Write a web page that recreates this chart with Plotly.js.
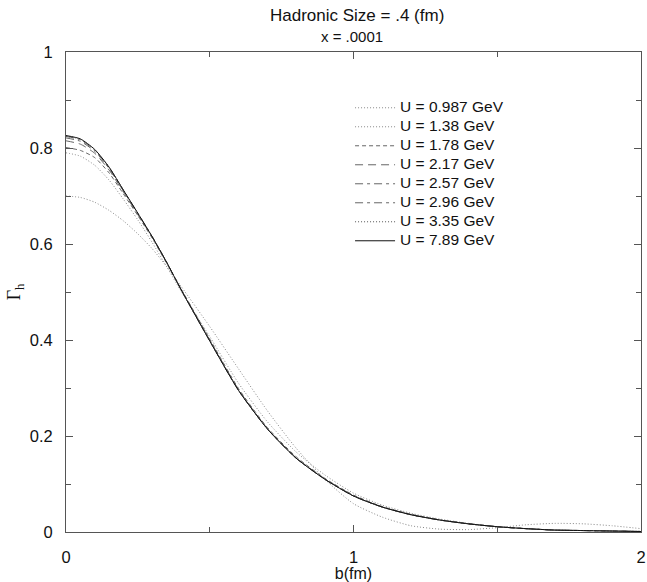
<!DOCTYPE html>
<html>
<head>
<meta charset="utf-8">
<script src="https://cdn.plot.ly/plotly-3.0.1.min.js"></script>
<style>html,body{margin:0;padding:0;background:#fff;}</style>
</head>
<body>
<div id="chart" style="width:647px;height:582px;"></div>
<script>
var b = [0, 0.05, 0.1, 0.15, 0.2, 0.25, 0.3, 0.35, 0.4, 0.5, 0.6, 0.7, 0.8, 0.9, 1.0, 1.1, 1.2, 1.3, 1.4, 1.5, 1.6, 1.7, 1.8, 1.9, 2.0];

var labels = ["U = 0.987 GeV", "U = 1.38 GeV", "U = 1.78 GeV", "U = 2.17 GeV",
              "U = 2.57 GeV", "U = 2.96 GeV", "U = 3.35 GeV", "U = 7.89 GeV"];

var g0987 = [0.700, 0.697, 0.687, 0.670, 0.648, 0.621, 0.590, 0.553, 0.512, 0.428, 0.340, 0.253, 0.175, 0.110, 0.059, 0.031, 0.013, 0.006, 0.005, 0.009, 0.015, 0.018, 0.017, 0.013, 0.007];
var g138  = [0.790, 0.783, 0.764, 0.733, 0.693, 0.650, 0.603, 0.553, 0.502, 0.407, 0.310, 0.230, 0.167, 0.119, 0.081, 0.056, 0.039, 0.027, 0.018, 0.011, 0.007, 0.004, 0.003, 0.002, 0.002];
var g178  = [0.801, 0.795, 0.780, 0.748, 0.704, 0.659, 0.612, 0.560, 0.507, 0.402, 0.299, 0.218, 0.157, 0.112, 0.077, 0.053, 0.037, 0.025, 0.017, 0.011, 0.007, 0.004, 0.003, 0.002, 0.001];
var g217  = [0.815, 0.808, 0.789, 0.754, 0.708, 0.661, 0.614, 0.561, 0.506, 0.400, 0.297, 0.216, 0.155, 0.111, 0.076, 0.052, 0.036, 0.025, 0.017, 0.011, 0.007, 0.004, 0.003, 0.002, 0.001];
var g257  = [0.821, 0.814, 0.793, 0.757, 0.710, 0.663, 0.615, 0.562, 0.506, 0.399, 0.296, 0.215, 0.154, 0.110, 0.075, 0.052, 0.036, 0.025, 0.017, 0.011, 0.007, 0.004, 0.003, 0.002, 0.001];
var g296  = [0.824, 0.817, 0.795, 0.759, 0.711, 0.664, 0.615, 0.562, 0.505, 0.398, 0.295, 0.215, 0.154, 0.110, 0.075, 0.052, 0.036, 0.025, 0.017, 0.011, 0.007, 0.004, 0.003, 0.002, 0.001];
var g335  = [0.825, 0.818, 0.796, 0.760, 0.712, 0.664, 0.615, 0.562, 0.505, 0.398, 0.295, 0.215, 0.154, 0.110, 0.075, 0.052, 0.036, 0.025, 0.017, 0.011, 0.007, 0.004, 0.003, 0.002, 0.001];
var g789  = [0.826, 0.819, 0.797, 0.760, 0.712, 0.664, 0.615, 0.562, 0.505, 0.398, 0.295, 0.215, 0.154, 0.110, 0.075, 0.052, 0.036, 0.025, 0.017, 0.011, 0.007, 0.004, 0.003, 0.002, 0.001];

var series = [g0987, g138, g178, g217, g257, g296, g335, g789];
var dashes = ["1px,2px", "1px,2px", "4px,3px", "8px,5px", "8px,4px,3px,4px", "8px,4px,3px,4px", "1px,2px", "solid"];
var colors = ["#888", "#888", "#666", "#666", "#666", "#666", "#555", "#111"];

var traces = series.map(function (ys, i) {
  return {
    x: b, y: ys, type: "scatter", mode: "lines",
    name: '<span style="font-size:15.5px">' + labels[i] + '</span>',
    line: {color: colors[i], width: 1, dash: dashes[i], shape: "spline", smoothing: 0.6}
  };
});

var axisCommon = {
  showline: true, linecolor: "#555", linewidth: 1, mirror: "ticks",
  ticks: "inside", ticklen: 7, tickcolor: "#555", tickwidth: 1,
  showgrid: false, zeroline: false,
  tickfont: {family: "Liberation Sans, Arial, sans-serif", size: 16.5, color: "#111"}
};

var layout = {
  width: 647, height: 582,
  margin: {l: 66, r: 6, t: 52, b: 50},
  paper_bgcolor: "#fff", plot_bgcolor: "#fff",
  font: {family: "Liberation Sans, Arial, sans-serif", color: "#111"},
  title: {
    text: "Hadronic Size = .4 (fm)",
    font: {size: 17, color: "#111"},
    x: 0.552, xanchor: "center", y: 0.974, yanchor: "middle", yref: "container"
  },
  annotations: [{
    text: "x = .0001", xref: "paper", yref: "paper", x: 0.498, y: 1.033,
    xanchor: "center", yanchor: "middle", showarrow: false,
    font: {size: 15, color: "#111"}
  }],
  xaxis: Object.assign({}, axisCommon, {
    range: [0, 2], tickmode: "linear", tick0: 0, dtick: 1,
    ticklabelstandoff: 10,
    minor: {dtick: 0.5, ticks: "inside", ticklen: 5, tickcolor: "#555"},
    title: {text: "b(fm)", font: {size: 16, color: "#111"}, standoff: 4}
  }),
  yaxis: Object.assign({}, axisCommon, {
    range: [0, 1], tickmode: "linear", tick0: 0, dtick: 0.2,
    ticklabelstandoff: 9,
    minor: {dtick: 0.1, ticks: "inside", ticklen: 5, tickcolor: "#555"},
    title: {text: "Γ<sub>h</sub>", font: {family: "Liberation Serif, Times New Roman, serif", size: 18, color: "#111"}, standoff: 4}
  }),
  legend: {
    x: 0.494, xanchor: "left", y: 0.914, yanchor: "top",
    bgcolor: "rgba(0,0,0,0)", borderwidth: 0,
    font: {size: 11, color: "#111"},
    itemwidth: 40,
    tracegroupgap: 0
  },
  showlegend: true
};

Plotly.newPlot("chart", traces, layout, {displayModeBar: false, staticPlot: true});
</script>
</body>
</html>
